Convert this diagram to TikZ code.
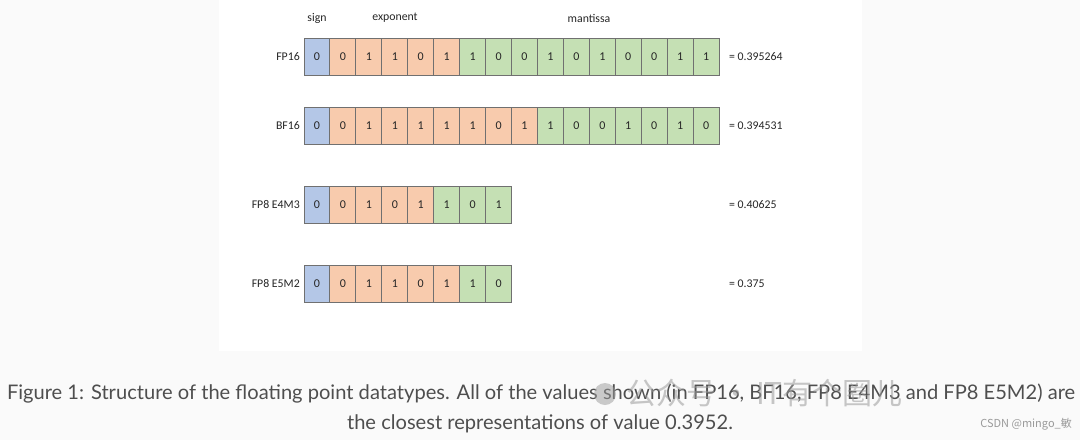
\documentclass[tikz,border=0pt]{standalone}
\usepackage{fontspec}
\setmainfont{Carlito}
\newfontfamily\capfont{Lato}
\newfontfamily\cjkfont{Noto Sans CJK SC}
\definecolor{bgc}{HTML}{FAFAFA}
\definecolor{sgnc}{HTML}{B4C7E7}
\definecolor{expc}{HTML}{F8CBAD}
\definecolor{manc}{HTML}{C5E0B4}
\definecolor{edgec}{HTML}{707070}
\definecolor{capc}{HTML}{4E4E4E}
\definecolor{wmc}{HTML}{9A9A9A}
\tikzset{
  cell/.style={draw=edgec, line width=0.9pt, minimum width=25.94pt, minimum height=37pt, inner sep=0pt, font=\fontsize{12}{14}\selectfont, text=black!85},
  rowlabel/.style={anchor=east, inner sep=0pt, font=\fontsize{11.8}{14}\selectfont, text=black!85},
  vallabel/.style={anchor=west, inner sep=0pt, font=\fontsize{11.8}{14}\selectfont, text=black!85},
  headlabel/.style={inner sep=0pt, font=\fontsize{11.8}{14}\selectfont, text=black!85},
  caption/.style={inner sep=0pt, font=\capfont\fontsize{20.1}{24}\selectfont, text=capc},
  watermark/.style={inner sep=0pt, font=\cjkfont\fontsize{30}{34}\selectfont, text=wmc, opacity=0.55}
}
\newcommand\bitrow[5]{%
  \node[rowlabel] (#1lab) at (300,#2) {#5};
  \foreach \b [count=\i] in {#4} {
    \ifnum\i=1 \def\col{sgnc}\else\ifnum\i>\numexpr#3+1\relax \def\col{manc}\else\def\col{expc}\fi\fi
    \node[cell, fill=\col] (#1c\i) at ({304+(\i-0.5)*25.94},#2) {\b};
  }
}
\begin{document}
\begin{tikzpicture}[x=1pt,y=-1pt]
\useasboundingbox (0,0) rectangle (1080,440);
\fill[bgc] (0,0) rectangle (1080,440);
\fill[white] (219,0) rectangle (862,351);

\node[headlabel] (hsign) at (317,18) {sign};
\node[headlabel] (hexp) at (395,18) {exponent};
\node[headlabel] (hman) at (589,18) {mantissa};

\bitrow{fp}{56.5}{5}{0,0,1,1,0,1,1,0,0,1,0,1,0,0,1,1}{FP16}
\bitrow{bf}{126}{8}{0,0,1,1,1,1,1,0,1,1,0,0,1,0,1,0}{BF16}
\bitrow{ea}{204.5}{4}{0,0,1,0,1,1,0,1}{FP8 E4M3}
\bitrow{eb}{283.5}{5}{0,0,1,1,0,1,1,0}{FP8 E5M2}

\node[vallabel] (fpval) at (729,56.5) {= 0.395264};
\node[vallabel] (bfval) at (729,126) {= 0.394531};
\node[vallabel] (eaval) at (729,204.5) {= 0.40625};
\node[vallabel] (ebval) at (729,283.5) {= 0.375};

\node[caption] (cap1) at (541,394) {Figure 1: Structure of the floating point datatypes. All of the values shown (in FP16, BF16, FP8 E4M3 and FP8 E5M2) are};
\node[caption] (cap2) at (540,424) {the closest representations of value 0.3952.};

% watermark
\fill[wmc, opacity=0.5] (605,394) circle (11);
\node[watermark, anchor=west] (wm) at (626,393) {公众号\,·\,IT有个圈儿};
\node[inner sep=0pt, anchor=east, font=\cjkfont\fontsize{11}{13}\selectfont, text=wmc] (csdn) at (1072,424) {CSDN @mingo\_敏};
\end{tikzpicture}
\end{document}
